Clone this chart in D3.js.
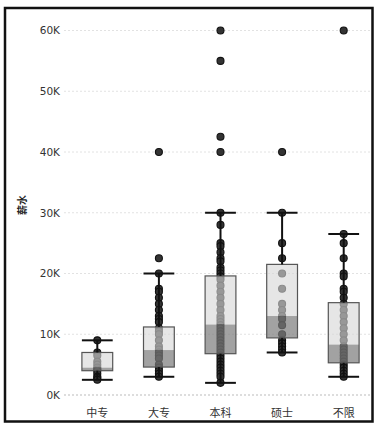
<!DOCTYPE html>
<html>
<head>
<meta charset="utf-8">
<script src="https://cdn.jsdelivr.net/npm/d3@7"></script>
<style>
  html, body { margin: 0; padding: 0; background: #fff; }
  svg { display: block; }
</style>
</head>
<body>
<svg id="chart" width="379" height="430"></svg>
<script>
// ---- data (salary, in thousands) ----
const categories = ["中专", "大专", "本科", "硕士", "不限"];
const whiskerLow  = [2.5, 3, 2, 7, 3];
const q1Values    = [4.0, 4.6, 6.8, 9.4, 5.3];
const medianVals  = [4.5, 7.4, 11.6, 13, 8.3];
const q3Values    = [7, 11.2, 19.6, 21.5, 15.2];
const whiskerHigh = [9, 20, 30, 30, 26.5];

const points_zhongzhuan = [9, 7, 6.5, 5.5, 5, 4.5, 4.2, 4, 3.5, 3, 2.8, 2.5];
const points_dazhuan = [40, 22.5, 20, 17.5, 17, 16, 15, 14, 13, 12.5, 12, 11, 10.5, 10, 9, 8, 7.5, 7, 6.5, 6, 5, 4.5, 4, 3.5, 3];
const points_benke = [60, 55, 42.5, 40, 30, 28, 25, 24.5, 23.5, 22.5, 22, 21, 20.5, 20, 19.5, 19, 18, 17, 16, 15, 14, 13, 12.5, 12, 11.5, 11, 10.5, 10, 9.5, 9, 8.5, 8, 7.5, 7, 6.5, 6, 5.5, 5, 4.5, 4, 3.5, 3, 2];
const points_shuoshi = [40, 30, 25, 22.5, 20, 17.5, 15, 14, 13, 12.5, 11.5, 10, 9, 8.5, 8, 7.5, 7];
const points_buxian = [60, 26.5, 25, 22.5, 20, 19.5, 17.5, 17, 16, 15, 14, 13, 12, 11, 10, 9, 8, 7.5, 7, 6.5, 6, 5.5, 5, 4.5, 4, 3.5, 3];
const pointSets = [points_zhongzhuan, points_dazhuan, points_benke, points_shuoshi, points_buxian];

const yTicks = [0, 10, 20, 30, 40, 50, 60];
const yTickLabels = ["0K", "10K", "20K", "30K", "40K", "50K", "60K"];
const yTitle = "薪水";

// ---- drawing ----
const svg = d3.select("#chart");

const x = d3.scaleBand().domain(categories).range([66.5, 374.5]);
const y = d3.scaleLinear().domain([0, 60]).range([395, 30.5]);
const bw = x.bandwidth() * 0.5;
const cx = c => x(c) + x.bandwidth() / 2;

// frame
svg.append("rect")
  .attr("x", 5).attr("y", 8).attr("width", 367.5).attr("height", 413.5)
  .attr("fill", "none").attr("stroke", "#111").attr("stroke-width", 2.5);

// gridlines
svg.append("g").selectAll("line").data(yTicks).join("line")
  .attr("x1", 64).attr("x2", 371)
  .attr("y1", d => y(d)).attr("y2", d => y(d))
  .attr("stroke", d => d === 0 ? "#bbb" : "#e2e2e2")
  .attr("stroke-width", 1)
  .attr("stroke-dasharray", "2,2");

// y axis labels
const yAxis = d3.axisLeft(y).tickValues(yTicks)
  .tickFormat((d, i) => yTickLabels[i]).tickSize(0).tickPadding(0);
const yg = svg.append("g").attr("transform", "translate(60,0)").call(yAxis);
yg.select(".domain").remove();
yg.selectAll("text")
  .attr("font-family", "DejaVu Sans, sans-serif")
  .attr("font-size", 10.5).attr("fill", "#333");

// y title
svg.append("text")
  .attr("transform", "translate(26,205) rotate(-90)")
  .attr("text-anchor", "middle")
  .attr("font-family", "Noto Sans CJK SC, sans-serif")
  .attr("font-size", 10).attr("font-weight", "bold").attr("fill", "#222")
  .text(yTitle);

// x axis labels
const xAxis = d3.axisBottom(x).tickSize(0).tickPadding(0);
const xg = svg.append("g").attr("transform", "translate(0,409)").call(xAxis);
xg.select(".domain").remove();
xg.selectAll("text")
  .attr("font-family", "Noto Sans CJK SC, sans-serif")
  .attr("font-size", 11).attr("fill", "#333");

// points
categories.forEach((c, i) => {
  svg.append("g").selectAll("circle").data(pointSets[i]).join("circle")
    .attr("cx", cx(c)).attr("cy", d => y(d)).attr("r", 3.5)
    .attr("fill", "#333").attr("stroke", "#111").attr("stroke-width", 1.1);
});

// boxes
const boxes = svg.append("g");
categories.forEach((c, i) => {
  const g = boxes.append("g");
  // upper (median -> q3)
  g.append("rect")
    .attr("x", cx(c) - bw / 2).attr("width", bw)
    .attr("y", y(q3Values[i])).attr("height", y(medianVals[i]) - y(q3Values[i]))
    .attr("fill", "#d6d6d6").attr("fill-opacity", 0.62);
  // lower (q1 -> median)
  g.append("rect")
    .attr("x", cx(c) - bw / 2).attr("width", bw)
    .attr("y", y(medianVals[i])).attr("height", y(q1Values[i]) - y(medianVals[i]))
    .attr("fill", "#7a7a7a").attr("fill-opacity", 0.7);
  // box outline
  g.append("rect")
    .attr("x", cx(c) - bw / 2).attr("width", bw)
    .attr("y", y(q3Values[i])).attr("height", y(q1Values[i]) - y(q3Values[i]))
    .attr("fill", "none").attr("stroke", "#555").attr("stroke-width", 1.2);
  // whiskers
  g.append("line")
    .attr("x1", cx(c)).attr("x2", cx(c))
    .attr("y1", y(q3Values[i])).attr("y2", y(whiskerHigh[i]))
    .attr("stroke", "#111").attr("stroke-width", 2);
  g.append("line")
    .attr("x1", cx(c)).attr("x2", cx(c))
    .attr("y1", y(q1Values[i])).attr("y2", y(whiskerLow[i]))
    .attr("stroke", "#111").attr("stroke-width", 2);
  // caps
  [whiskerHigh[i], whiskerLow[i]].forEach(v => {
    g.append("line")
      .attr("x1", cx(c) - bw / 2).attr("x2", cx(c) + bw / 2)
      .attr("y1", y(v)).attr("y2", y(v))
      .attr("stroke", "#111").attr("stroke-width", 2);
  });
});
</script>
</body>
</html>
